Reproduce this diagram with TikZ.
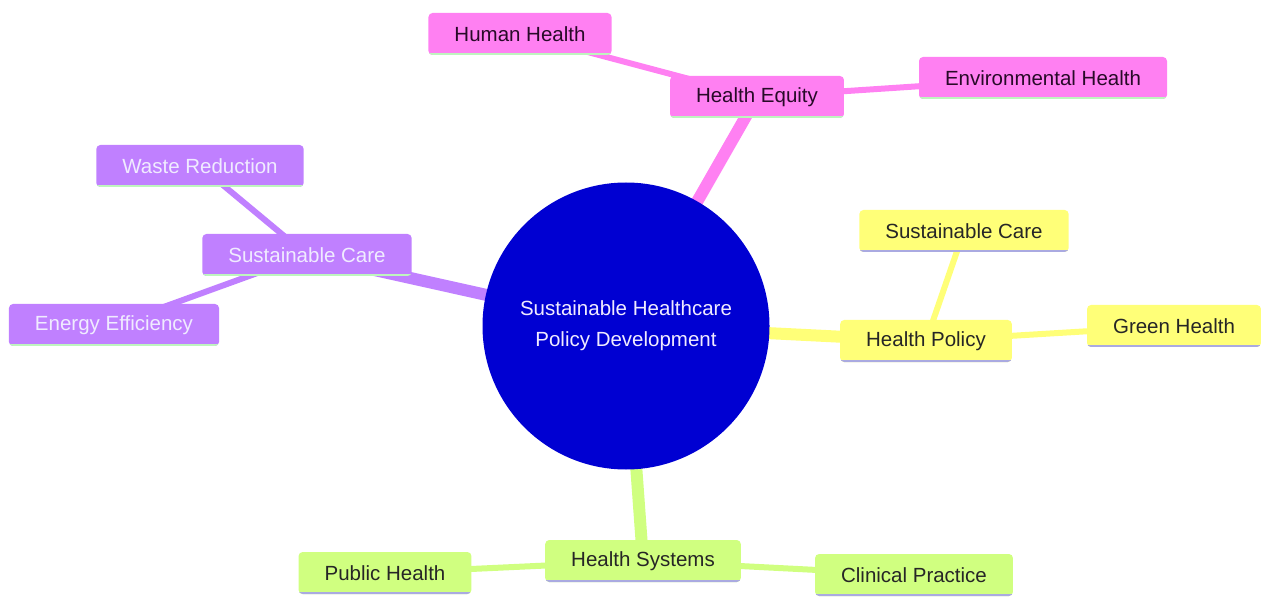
\documentclass[tikz,border=0pt]{standalone}
\usepackage{fontspec}
\setmainfont{Liberation Sans}
\usetikzlibrary{backgrounds}
\definecolor{pinkc}{RGB}{255,128,242}
\definecolor{purpc}{RGB}{192,128,255}
\definecolor{yelc}{RGB}{255,255,120}
\definecolor{grnc}{RGB}{208,255,128}
\definecolor{centerc}{RGB}{0,0,210}
\definecolor{lgreen}{RGB}{190,245,190}
\definecolor{lavl}{RGB}{170,170,225}
\definecolor{darktxt}{RGB}{40,10,40}
\definecolor{lighttxt}{RGB}{240,235,255}
\tikzset{
  mbox/.style 2 args={rectangle, rounded corners=4pt, fill=#1, draw=none,
    minimum height=42pt, inner xsep=26pt, inner ysep=0pt,
    font=\fontsize{20.5}{24}\selectfont,
    path picture={\draw[line width=4pt, #2] (path picture bounding box.south west) -- (path picture bounding box.south east);}},
  pinkbox/.style={mbox={pinkc}{lgreen}, text=darktxt},
  purpbox/.style={mbox={purpc}{lgreen}, text=lighttxt},
  yelbox/.style={mbox={yelc}{lavl}, text=black!85},
  grnbox/.style={mbox={grnc}{lavl}, text=black!85},
  thickedge/.style={line width=12pt},
  thinedge/.style={line width=6pt},
}
\begin{document}
\begin{tikzpicture}[x=1pt,y=-1pt]
\useasboundingbox (0,0) rectangle (1263,601);
\node[circle, fill=centerc, minimum size=287pt, inner sep=0pt, text=lighttxt,
      align=center, font=\fontsize{20.5}{31}\selectfont] (root) at (626,326)
      {Sustainable Healthcare\\Policy Development};
% pink
\node[pinkbox] (equity) at (757,97) {Health Equity};
\node[pinkbox] (human) at (520,34) {Human Health};
\node[pinkbox] (env) at (1043,78) {Environmental Health};
% purple
\node[purpbox] (scare) at (307,255) {Sustainable Care};
\node[purpbox] (waste) at (200,166) {Waste Reduction};
\node[purpbox] (energy) at (114,325) {Energy Efficiency};
% yellow
\node[yelbox] (policy) at (926,341) {Health Policy};
\node[yelbox] (ycare) at (964,231) {Sustainable Care};
\node[yelbox] (green) at (1174,326) {Green Health};
% green
\node[grnbox] (systems) at (643,561) {Health Systems};
\node[grnbox] (public) at (385,573) {Public Health};
\node[grnbox] (clinical) at (914,575) {Clinical Practice};
\begin{scope}[on background layer]
\draw[thickedge, pinkc] (root.center) -- (equity.center);
\draw[thinedge, pinkc] (equity.center) -- (human.center);
\draw[thinedge, pinkc] (equity.center) -- (env.center);
\draw[thickedge, purpc] (root.center) -- (scare.center);
\draw[thinedge, purpc] (scare.center) -- (waste.center);
\draw[thinedge, purpc] (scare.center) -- (energy.center);
\draw[thickedge, yelc] (root.center) -- (policy.center);
\draw[thinedge, yelc] (policy.center) -- (ycare.center);
\draw[thinedge, yelc] (policy.center) -- (green.center);
\draw[thickedge, grnc] (root.center) -- (systems.center);
\draw[thinedge, grnc] (systems.center) -- (public.center);
\draw[thinedge, grnc] (systems.center) -- (clinical.center);
\end{scope}
\end{tikzpicture}
\end{document}
